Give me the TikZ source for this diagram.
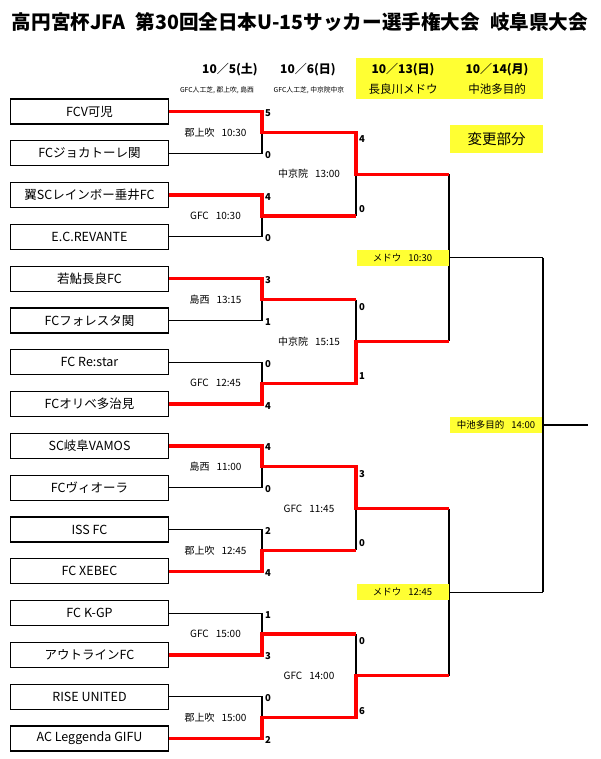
\documentclass[tikz,border=0pt]{standalone}
\usepackage{fontspec}
\setmainfont{Noto Sans CJK JP}
\definecolor{hl}{RGB}{255,255,51}
\definecolor{winred}{RGB}{255,0,0}
\begin{document}
\begin{tikzpicture}[x=1pt,y=-1pt,
  team/.style={draw, line width=1.3pt, minimum width=158pt, minimum height=25pt, inner sep=0pt, font=\fontsize{12.5}{12.5}\selectfont},
  wire/.style={draw=black, line width=1.1pt},
  win/.style={draw=winred, line width=3.3pt, line join=miter},
  score/.style={anchor=west, inner sep=0pt, font=\fontsize{9.5}{9.5}\selectfont\bfseries},
  match/.style={inner sep=0pt, font=\fontsize{10}{10}\selectfont},
  ybox/.style={fill=hl, inner sep=0pt, minimum width=92pt, minimum height=16pt, font=\fontsize{9.5}{10}\selectfont},
  hdr/.style={inner sep=0pt, font=\fontsize{12}{12}\selectfont\bfseries},
  sub/.style={inner sep=0pt, font=\fontsize{6.8}{7}\selectfont},
  sub2/.style={inner sep=0pt, font=\fontsize{11.5}{11.5}\selectfont}]
\useasboundingbox (0,0) rectangle (600,759);
% title
\node[inner sep=0pt, font=\fontsize{19.6}{19.6}\selectfont\bfseries] (title) at (300,22) {高円宮杯JFA\hspace{10pt}第30回全日本U-15サッカー選手権大会\hspace{10pt}岐阜県大会};
% header
\fill[hl] (356,58) rectangle (543,99);
\node[hdr] (d1) at (230,70) {10／5(土)};
\node[hdr] (d2) at (308,70) {10／6(日)};
\node[hdr] (d3) at (403,70) {10／13(日)};
\node[hdr] (d4) at (497,70) {10／14(月)};
\node[sub] (v1) at (217,90) {GFC人工芝, 郡上吹, 島西};
\node[sub] (v2) at (309,90) {GFC人工芝, 中京院中京};
\node[sub2] (v3) at (403,89) {長良川メドウ};
\node[sub2] (v4) at (497,89) {中池多目的};
\node[fill=hl, inner sep=0pt, minimum width=93pt, minimum height=28pt, font=\fontsize{14.5}{14.5}\selectfont] (chg) at (496.5,139) {変更部分};
% teams
\node[team] (t1) at (89.5,111.5) {FCV可児};
\node[team] (t2) at (89.5,153.3) {FCジョカトーレ関};
\node[team] (t3) at (89.5,195.1) {翼SCレインボー垂井FC};
\node[team] (t4) at (89.5,236.9) {E.C.REVANTE};
\node[team] (t5) at (89.5,278.7) {若鮎長良FC};
\node[team] (t6) at (89.5,320.5) {FCフォレスタ関};
\node[team] (t7) at (89.5,362.3) {FC Re:star};
\node[team] (t8) at (89.5,404.1) {FCオリベ多治見};
\node[team] (t9) at (89.5,445.9) {SC岐阜VAMOS};
\node[team] (t10) at (89.5,487.7) {FCヴィオーラ};
\node[team] (t11) at (89.5,529.5) {ISS FC};
\node[team] (t12) at (89.5,571.3) {FC XEBEC};
\node[team] (t13) at (89.5,613.1) {FC K-GP};
\node[team] (t14) at (89.5,654.9) {アウトラインFC};
\node[team] (t15) at (89.5,696.7) {RISE UNITED};
\node[team] (t16) at (89.5,738.5) {AC Leggenda GIFU};
% coordinates
\foreach \k in {1,...,8}{
  \coordinate (r1m\k) at (262,{111.5+41.8*(2*\k-1.5)});
  \coordinate (r1e\k) at (356,{111.5+41.8*(2*\k-1.5)});
}
\foreach \k in {1,...,4}{
  \coordinate (r2m\k) at (356,{111.5+41.8*(4*\k-2.5)});
  \coordinate (r2e\k) at (449,{111.5+41.8*(4*\k-2.5)});
}
\foreach \k in {1,2}{
  \coordinate (r3m\k) at (449,{111.5+41.8*(8*\k-4.5)});
  \coordinate (r3e\k) at (543,{111.5+41.8*(8*\k-4.5)});
}
\coordinate (fm) at (543,425);
\coordinate (fe) at (588,425);
% black brackets
\foreach \k in {1,...,8}{
  \pgfmathtruncatemacro{\a}{2*\k-1}
  \pgfmathtruncatemacro{\b}{2*\k}
  \draw[wire] (t\a.east) -- (t\a.east -| r1m\k) -- (t\b.east -| r1m\k) -- (t\b.east);
  \draw[wire] (r1m\k) -- (r1e\k);
}
\foreach \k in {1,...,4}{
  \pgfmathtruncatemacro{\a}{2*\k-1}
  \pgfmathtruncatemacro{\b}{2*\k}
  \draw[wire] (r1e\a) -- (r1e\b);
  \draw[wire] (r2m\k) -- (r2e\k);
}
\draw[wire] (r2e1) -- (r2e2);
\draw[wire] (r2e3) -- (r2e4);
\draw[wire] (r3m1) -- (r3e1);
\draw[wire] (r3m2) -- (r3e2);
\draw[wire] (r3e1) -- (r3e2);
\draw[wire] (fm) -- (fe);
% winners
\draw[win] (t1.east) -- (t1.east -| r1m1) -- (r1m1) -- (r1e1) -- (r2m1) -- (r2e1);
\draw[win] (t3.east) -- (t3.east -| r1m2) -- (r1m2) -- (r1e2);
\draw[win] (t5.east) -- (t5.east -| r1m3) -- (r1m3) -- (r1e3);
\draw[win] (t8.east) -- (t8.east -| r1m4) -- (r1m4) -- (r1e4) -- (r2m2) -- (r2e2);
\draw[win] (t9.east) -- (t9.east -| r1m5) -- (r1m5) -- (r1e5) -- (r2m3) -- (r2e3);
\draw[win] (t12.east) -- (t12.east -| r1m6) -- (r1m6) -- (r1e6);
\draw[win] (t14.east) -- (t14.east -| r1m7) -- (r1m7) -- (r1e7);
\draw[win] (t16.east) -- (t16.east -| r1m8) -- (r1m8) -- (r1e8) -- (r2m4) -- (r2e4);
% first round scores
\foreach \i/\s in {1/5,2/0,3/4,4/0,5/3,6/1,7/0,8/4,9/4,10/0,11/2,12/4,13/1,14/3,15/0,16/2}{
  \node[score] (s1\i) at ([xshift=3pt,yshift=-1.5pt]t\i.east -| r1m1) {\s};
}
% second round scores
\foreach \k/\s/\d in {1/4/7,2/0/-7,3/0/7,4/1/-7,5/3/7,6/0/-7,7/0/7,8/6/-7}{
  \node[score] (s2\k) at ([xshift=3pt,yshift=-\d pt]r1e\k) {\s};
}
% match labels
\node[match] (m11) at (r1m1 -| 215.5,0) {郡上吹\hspace{7pt}10:30};
\node[match] (m12) at (r1m2 -| 215.5,0) {GFC\hspace{7pt}10:30};
\node[match] (m13) at (r1m3 -| 215.5,0) {島西\hspace{7pt}13:15};
\node[match] (m14) at (r1m4 -| 215.5,0) {GFC\hspace{7pt}12:45};
\node[match] (m15) at (r1m5 -| 215.5,0) {島西\hspace{7pt}11:00};
\node[match] (m16) at (r1m6 -| 215.5,0) {郡上吹\hspace{7pt}12:45};
\node[match] (m17) at (r1m7 -| 215.5,0) {GFC\hspace{7pt}15:00};
\node[match] (m18) at (r1m8 -| 215.5,0) {郡上吹\hspace{7pt}15:00};
\node[match] (m21) at (r2m1 -| 309,0) {中京院\hspace{7pt}13:00};
\node[match] (m22) at (r2m2 -| 309,0) {中京院\hspace{7pt}15:15};
\node[match] (m23) at (r2m3 -| 309,0) {GFC\hspace{7pt}11:45};
\node[match] (m24) at (r2m4 -| 309,0) {GFC\hspace{7pt}14:00};
\node[ybox] (m31) at (r3m1 -| 402.5,0) {メドウ\hspace{7pt}10:30};
\node[ybox] (m32) at (r3m2 -| 402.5,0) {メドウ\hspace{7pt}12:45};
\node[ybox] (mf) at (496,425) {中池多目的\hspace{7pt}14:00};
\end{tikzpicture}
\end{document}
